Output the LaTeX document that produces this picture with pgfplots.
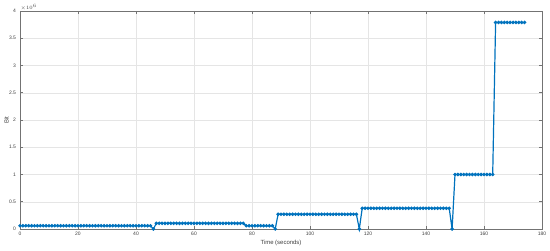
\documentclass[border=0pt]{standalone}
\usepackage{fontspec}
\setmainfont{Liberation Sans}
\usepackage{pgfplots}
\pgfplotsset{compat=1.18}
\definecolor{mblue}{RGB}{0,114,189}

\begin{document}
\begin{tikzpicture}
\useasboundingbox (-20bp,-22bp) rectangle (530bp,229bp);
\begin{axis}[
    at={(0,0)}, anchor=south west,
    scale only axis,
    clip=false,
    width=522bp, height=218bp,
    xmin=0, xmax=180, ymin=0, ymax=4e6,
    xtick={0,20,...,180},
    xticklabels={0,20,40,60,80,100,120,140,160,180},
    ytick={0,0.5e6,1e6,1.5e6,2e6,2.5e6,3e6,3.5e6,4e6},
    yticklabels={0,0.5,1,1.5,2,2.5,3,3.5,4},
    scaled y ticks=false,
    tick label style={font=\fontsize{5}{6}\selectfont, text=black!75},
    yticklabel style={xshift=-0.5bp},
    major tick length=3bp,
    axis line style={black!55, line width=0.5bp},
    tick style={black!55, line width=0.5bp},
    grid=major,
    major grid style={black!10, line width=0.4bp},
    xlabel={Time (seconds)},
    ylabel={Bit},
    every axis x label/.style={at={(axis description cs:0.5,-0.064)}, anchor=center, font=\fontsize{6}{7}\selectfont, text=black!75},
    every axis y label/.style={at={(axis description cs:-0.026,0.5)}, anchor=center, rotate=90, font=\fontsize{6}{7}\selectfont, text=black!75},
]
\addplot[mblue, line width=1.2bp, mark=*, mark size=1.1bp] table {
t b
0 60000
1 60000
2 60000
3 60000
4 60000
5 60000
6 60000
7 60000
8 60000
9 60000
10 60000
11 60000
12 60000
13 60000
14 60000
15 60000
16 60000
17 60000
18 60000
19 60000
20 60000
21 60000
22 60000
23 60000
24 60000
25 60000
26 60000
27 60000
28 60000
29 60000
30 60000
31 60000
32 60000
33 60000
34 60000
35 60000
36 60000
37 60000
38 60000
39 60000
40 60000
41 60000
42 60000
43 60000
44 60000
45 60000
46 0
47 104000
48 104000
49 104000
50 104000
51 104000
52 104000
53 104000
54 104000
55 104000
56 104000
57 104000
58 104000
59 104000
60 104000
61 104000
62 104000
63 104000
64 104000
65 104000
66 104000
67 104000
68 104000
69 104000
70 104000
71 104000
72 104000
73 104000
74 104000
75 104000
76 104000
77 104000
78 60000
79 60000
80 60000
81 60000
82 60000
83 60000
84 60000
85 60000
86 60000
87 60000
88 0
89 270000
90 270000
91 270000
92 270000
93 270000
94 270000
95 270000
96 270000
97 270000
98 270000
99 270000
100 270000
101 270000
102 270000
103 270000
104 270000
105 270000
106 270000
107 270000
108 270000
109 270000
110 270000
111 270000
112 270000
113 270000
114 270000
115 270000
116 270000
117 0
118 380000
119 380000
120 380000
121 380000
122 380000
123 380000
124 380000
125 380000
126 380000
127 380000
128 380000
129 380000
130 380000
131 380000
132 380000
133 380000
134 380000
135 380000
136 380000
137 380000
138 380000
139 380000
140 380000
141 380000
142 380000
143 380000
144 380000
145 380000
146 380000
147 380000
148 380000
149 0
150 1000000
151 1000000
152 1000000
153 1000000
154 1000000
155 1000000
156 1000000
157 1000000
158 1000000
159 1000000
160 1000000
161 1000000
162 1000000
163 1000000
164 3790000
165 3790000
166 3790000
167 3790000
168 3790000
169 3790000
170 3790000
171 3790000
172 3790000
173 3790000
174 3790000
};
\node[anchor=south west, inner sep=0.5pt, font=\fontsize{5}{6}\selectfont, text=black!75]
    at (axis description cs:0,1) {$\times10^{6}$};
\end{axis}
\end{tikzpicture}
\end{document}
